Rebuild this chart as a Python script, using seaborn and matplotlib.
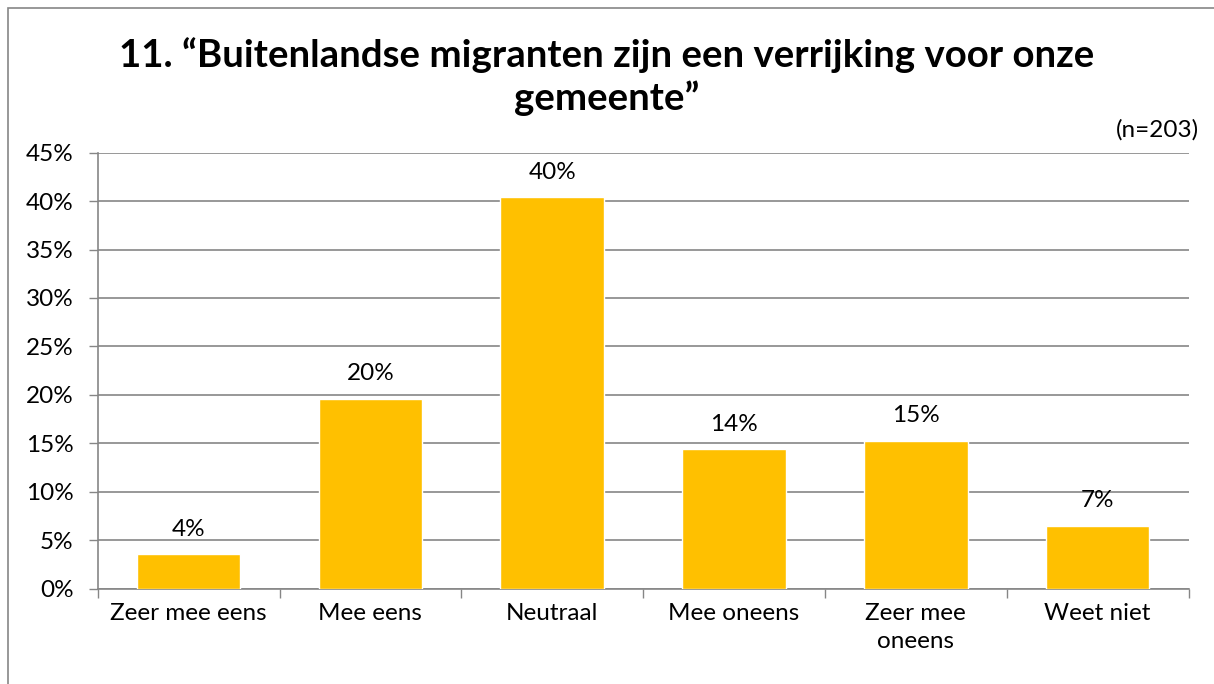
import matplotlib
matplotlib.use("Agg")
import matplotlib.pyplot as plt
import seaborn as sns
from matplotlib.patches import Rectangle
from matplotlib.ticker import FixedLocator

categories = ["Zeer mee eens", "Mee eens", "Neutraal", "Mee oneens", "Zeer mee\noneens", "Weet niet"]
values = [3.6, 19.6, 40.4, 14.4, 15.3, 6.5]
value_labels = ["4%", "20%", "40%", "14%", "15%", "7%"]
yticks = [0, 5, 10, 15, 20, 25, 30, 35, 40, 45]

title = "11. \u201cBuitenlandse migranten zijn een verrijking voor onze\ngemeente\u201d"
note = "(n=203)"

sns.set_theme(style="white")
plt.rcParams["font.family"] = ["Lato", "DejaVu Sans"]

fs = 17.5
fig = plt.figure(figsize=(12.14, 6.84), dpi=100)
ax = fig.add_axes([0.0805, 0.139, 0.8985, 0.638])

sns.barplot(x=categories, y=values, color="#FFC000", saturation=1, width=0.57, ax=ax, zorder=3)

ax.set_ylim(0, 45)
ax.set_xlim(-0.5, len(categories) - 0.5)
ax.set_yticks(yticks)
ax.set_yticklabels([f"{t}%" for t in yticks], fontsize=fs, color="#000000")
ax.set_xticks(range(len(categories)))
ax.set_xticklabels(categories, fontsize=fs, color="#000000", linespacing=1.4, va="top")
ax.tick_params(axis="x", length=0, pad=10)
ax.tick_params(axis="y", length=6.5, width=1, color="#868686", pad=11, left=True)
ax.xaxis.set_minor_locator(FixedLocator([i - 0.5 for i in range(len(categories) + 1)]))
ax.tick_params(axis="x", which="minor", length=6.5, width=1, color="#868686", bottom=True)
ax.set_xlabel("")
ax.set_ylabel("")

ax.grid(axis="y", color="#868686", linewidth=1.2, zorder=0)
ax.set_axisbelow(True)
for side in ["top", "right"]:
    ax.spines[side].set_visible(False)
for side in ["left", "bottom"]:
    ax.spines[side].set_color("#868686")
    ax.spines[side].set_linewidth(1.2)

for i, (v, lab) in enumerate(zip(values, value_labels)):
    ax.annotate(lab, (i, v), xytext=(0, 18), textcoords="offset points",
                ha="center", va="center", fontsize=fs, color="#000000")

fig.text(0.5, 0.888, title, ha="center", va="center", fontsize=27.6, fontweight="bold",
         linespacing=1.25, color="#000000")
fig.text(0.988, 0.81, note, ha="right", va="center", fontsize=fs, color="#000000")

fig.patches.append(Rectangle((0.007, -0.01), 1.0, 0.999, transform=fig.transFigure,
                             fill=False, edgecolor="#868686", linewidth=1.2))

fig.savefig("out.png", dpi=100)
